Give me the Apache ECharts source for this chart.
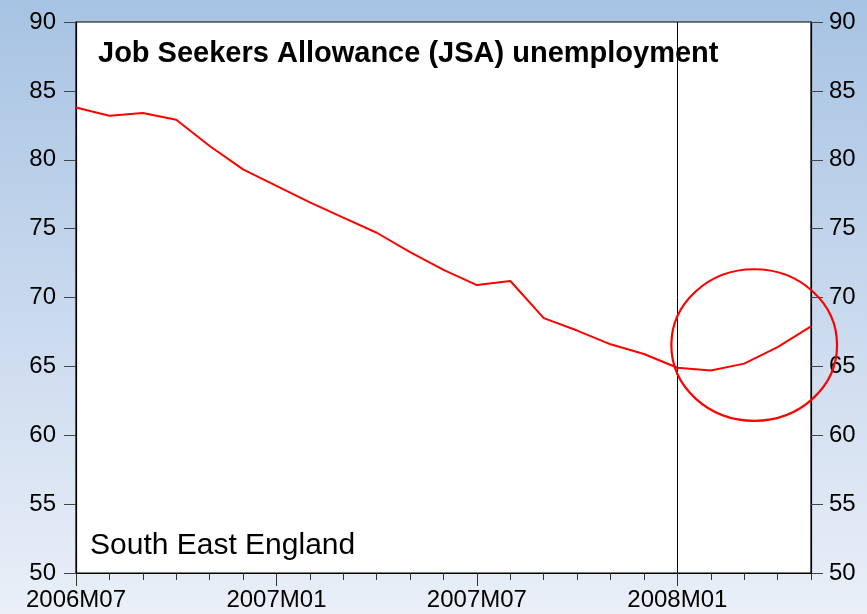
<!DOCTYPE html>
<html>
<head>
<meta charset="utf-8">
<script src="https://cdn.jsdelivr.net/npm/echarts@6/dist/echarts.min.js"></script>
<style>
html,body{margin:0;padding:0;}
#chart{width:867px;height:614px;}
</style>
</head>
<body>
<div id="chart"></div>
<script>
const categories = ['2006M07','2006M08','2006M09','2006M10','2006M11','2006M12',
  '2007M01','2007M02','2007M03','2007M04','2007M05','2007M06',
  '2007M07','2007M08','2007M09','2007M10','2007M11','2007M12',
  '2008M01','2008M02','2008M03','2008M04','2008M05'];
const jsaValues = [83.8, 83.2, 83.4, 82.9, 81.0, 79.3,
  78.1, 76.9, 75.8, 74.7, 73.3, 72.0,
  70.9, 71.2, 68.5, 67.6, 66.6, 65.9,
  64.9, 64.7, 65.2, 66.4, 67.9];
const yTicks = [50, 55, 60, 65, 70, 75, 80, 85, 90];
const titleText = 'Job Seekers Allowance (JSA) unemployment';
const regionText = 'South East England';
const markerMonth = '2008M01';
// highlight ellipse: centre (category index, value) and radii (months, value units)
const ellipseCenter = [20.3, 66.55];
const ellipseRadius = [2.48, 5.5];

const chart = echarts.init(document.getElementById('chart'));
const font = 'Liberation Sans, Arial, sans-serif';
const labelStyle = {color:'#000', fontSize:24, fontFamily:font};

const option = {
  backgroundColor: new echarts.graphic.LinearGradient(0,0,0,1,[
    {offset:0,color:'#a7c3e3'},{offset:1,color:'#eaeff8'}]),
  animation:false,
  grid:{left:76,right:56,top:22,bottom:41,show:true,backgroundColor:'#fff',borderColor:'#000',borderWidth:1.2},
  title:[
    {text:titleText,left:93,top:34,textStyle:{fontFamily:font,fontSize:29,fontWeight:'bold',color:'#000'}},
    {text:regionText,left:85,top:526,textStyle:{fontFamily:font,fontSize:30,fontWeight:'normal',color:'#000'}}
  ],
  xAxis:[
    {type:'category',data:categories,boundaryGap:false,
     axisLine:{lineStyle:{color:'#000',width:1.2}},
     axisTick:{show:true,interval:0,length:7,lineStyle:{color:'#333'}},
     axisLabel:{show:false},splitLine:{show:false}},
    {type:'category',data:categories,boundaryGap:false,position:'bottom',
     axisLine:{show:false},
     axisTick:{show:true,interval:5,length:13,lineStyle:{color:'#333'}},
     axisLabel:{show:true,interval:5,margin:15,...labelStyle},splitLine:{show:false}}
  ],
  yAxis:[
    {type:'value',min:50,max:90,interval:5,position:'left',
     axisLine:{show:true,lineStyle:{color:'#000',width:1.2}},
     axisTick:{show:true,length:12,lineStyle:{color:'#444'}},
     axisLabel:{margin:20,...labelStyle},splitLine:{show:false}},
    {type:'value',min:50,max:90,interval:5,position:'right',
     axisLine:{show:true,lineStyle:{color:'#000',width:1.2}},
     axisTick:{show:true,length:12,lineStyle:{color:'#444'}},
     axisLabel:{margin:18,...labelStyle},splitLine:{show:false}}
  ],
  series:[{
    type:'line',data:jsaValues,showSymbol:false,symbol:'none',
    lineStyle:{color:'#ff0000',width:2},
    markLine:{silent:true,symbol:'none',label:{show:false},
      lineStyle:{color:'#000',width:1,type:'solid'},
      data:[{xAxis:markerMonth}]}
  }]
};
chart.setOption(option);

function drawEllipse(){
  const conv = p => chart.convertToPixel({xAxisIndex:0,yAxisIndex:0}, p);
  const a = conv([0, ellipseCenter[1]]);
  const b = conv([1, ellipseCenter[1] - ellipseRadius[1]]);
  const step = b[0] - a[0];
  const cx = a[0] + ellipseCenter[0] * step;
  const cy = a[1];
  chart.setOption({graphic:[{type:'ellipse',id:'hl',z:100,
    shape:{cx:cx,cy:cy,rx:ellipseRadius[0]*step,ry:b[1]-a[1]},
    style:{fill:null,stroke:'#ff0000',lineWidth:2.2}}]});
}
drawEllipse();
</script>
</body>
</html>
